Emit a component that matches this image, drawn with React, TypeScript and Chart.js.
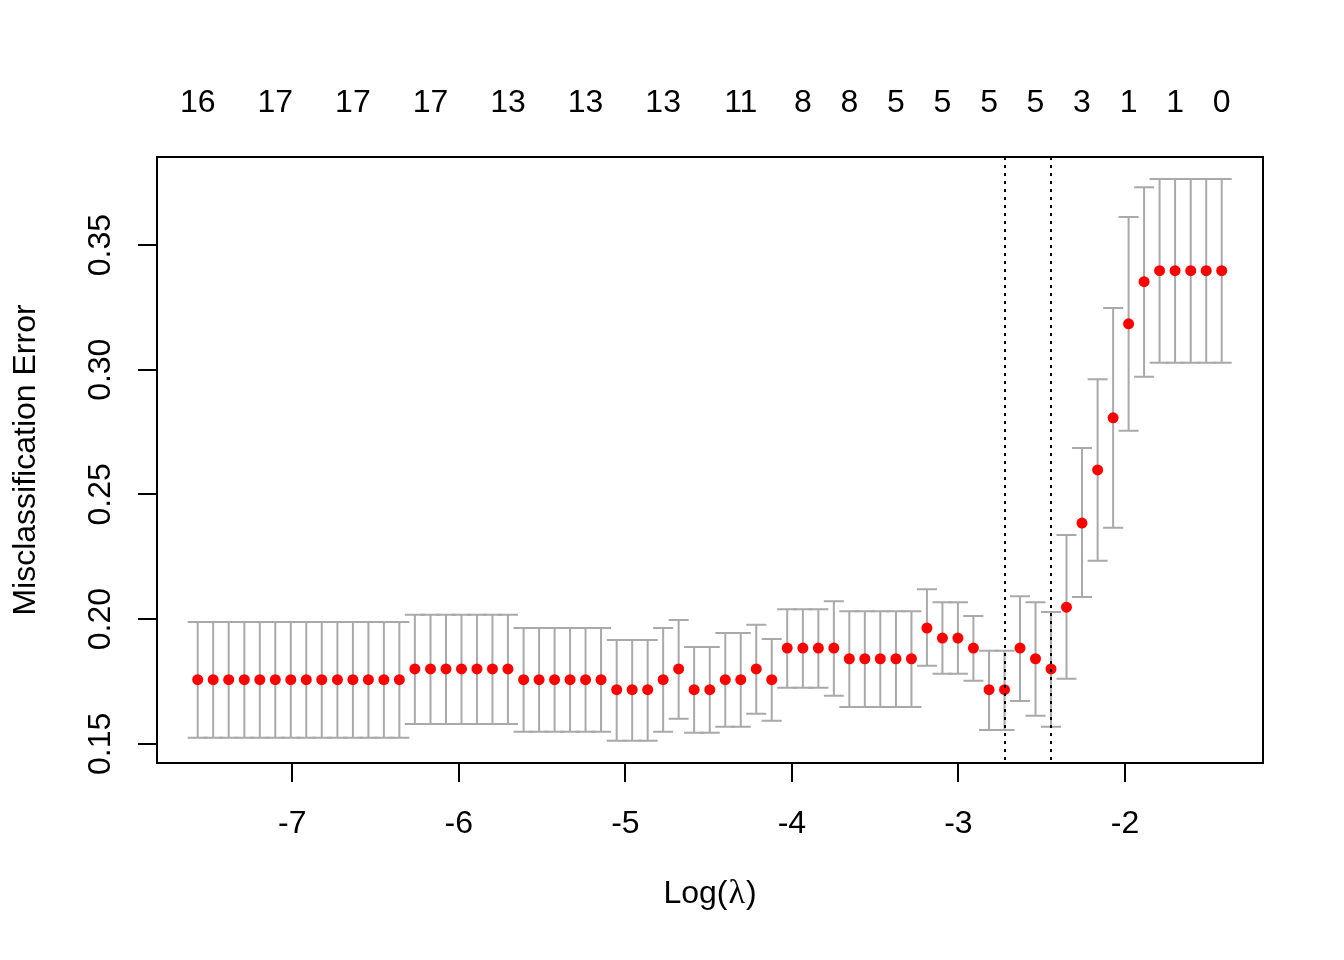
import React, { useEffect, useRef } from "react";
import { Chart, registerables } from "chart.js";

Chart.register(...registerables);

const logLambda: number[] = [
  -7.568, -7.475, -7.382, -7.288, -7.195, -7.102, -7.009, -6.916, -6.823, -6.729,
  -6.636, -6.543, -6.45, -6.357, -6.264, -6.17, -6.077, -5.984, -5.891, -5.798,
  -5.705, -5.611, -5.518, -5.425, -5.332, -5.239, -5.146, -5.052, -4.959, -4.866,
  -4.773, -4.68, -4.587, -4.493, -4.4, -4.307, -4.214, -4.121, -4.028, -3.934,
  -3.841, -3.748, -3.655, -3.562, -3.469, -3.375, -3.282, -3.189, -3.096, -3.003,
  -2.91, -2.816, -2.723, -2.63, -2.537, -2.444, -2.351, -2.258, -2.164, -2.071,
  -1.978, -1.885, -1.792, -1.699, -1.605, -1.512, -1.419,
];

const cvMean: number[] = [
  0.1757, 0.1757, 0.1757, 0.1757, 0.1757, 0.1757, 0.1757, 0.1757, 0.1757, 0.1757,
  0.1757, 0.1757, 0.1757, 0.1757, 0.18, 0.18, 0.18, 0.18, 0.18, 0.18,
  0.18, 0.1757, 0.1757, 0.1757, 0.1757, 0.1757, 0.1757, 0.1717, 0.1717, 0.1717,
  0.1757, 0.18, 0.1717, 0.1717, 0.1757, 0.1757, 0.18, 0.1757, 0.1884, 0.1884,
  0.1884, 0.1884, 0.1841, 0.1841, 0.1841, 0.1841, 0.1841, 0.1964, 0.1924, 0.1924,
  0.1884, 0.1717, 0.1717, 0.1884, 0.1841, 0.18, 0.2048, 0.2385, 0.2598, 0.2807,
  0.3184, 0.3353, 0.3397, 0.3397, 0.3397, 0.3397, 0.3397,
];

const cvUpper: number[] = [
  0.1988, 0.1988, 0.1988, 0.1988, 0.1988, 0.1988, 0.1988, 0.1988, 0.1988, 0.1988,
  0.1988, 0.1988, 0.1988, 0.1988, 0.2017, 0.2017, 0.2017, 0.2017, 0.2017, 0.2017,
  0.2017, 0.1964, 0.1964, 0.1964, 0.1964, 0.1964, 0.1964, 0.1916, 0.1916, 0.1916,
  0.1964, 0.1996, 0.1888, 0.1888, 0.1944, 0.1944, 0.1977, 0.192, 0.204, 0.204,
  0.204, 0.2072, 0.2032, 0.2032, 0.2032, 0.2032, 0.2032, 0.212, 0.2068, 0.2068,
  0.2012, 0.1873, 0.1873, 0.2092, 0.2068, 0.2028, 0.2337, 0.2686, 0.2962, 0.3248,
  0.3612, 0.3732, 0.3765, 0.3765, 0.3765, 0.3765, 0.3765,
];

const cvLower: number[] = [
  0.1524, 0.1524, 0.1524, 0.1524, 0.1524, 0.1524, 0.1524, 0.1524, 0.1524, 0.1524,
  0.1524, 0.1524, 0.1524, 0.1524, 0.1579, 0.1579, 0.1579, 0.1579, 0.1579, 0.1579,
  0.1579, 0.1548, 0.1548, 0.1548, 0.1548, 0.1548, 0.1548, 0.1512, 0.1512, 0.1512,
  0.1548, 0.16, 0.1544, 0.1544, 0.1568, 0.1568, 0.162, 0.1592, 0.1725, 0.1725,
  0.1725, 0.1693, 0.1648, 0.1648, 0.1648, 0.1648, 0.1648, 0.1813, 0.1781, 0.1781,
  0.1753, 0.1555, 0.1555, 0.1672, 0.1612, 0.1568, 0.1761, 0.2089, 0.2234, 0.2366,
  0.2755, 0.2972, 0.3028, 0.3028, 0.3028, 0.3028, 0.3028,
];

// indices of lambda points that carry a "number of nonzero coefficients" label on top
const topLabelIndex: number[] = [0, 5, 10, 15, 20, 25, 30, 35, 39, 42, 45, 48, 51, 54, 57, 60, 63, 66];
const topLabels: string[] = ["16", "17", "17", "17", "13", "13", "13", "11", "8", "8", "5", "5", "5", "5", "3", "1", "1", "0"];

const xTicks: number[] = [-7, -6, -5, -4, -3, -2];
const yTicks: number[] = [0.15, 0.2, 0.25, 0.3, 0.35];

const lambdaMinLog = -2.723;
const lambda1seLog = -2.444;

const X_MIN = -7.8124;
const X_MAX = -1.171;
const Y_MIN = 0.1423;
const Y_MAX = 0.3853;

const SANS = "'Liberation Sans', Arial, Helvetica, sans-serif";
const SERIF = "'Liberation Serif', 'Times New Roman', serif";
const FONT_SIZE = 32;

const overlayPlugin = {
  id: "cvOverlay",
  beforeDatasetsDraw(chart: any) {
    const ctx = chart.ctx;
    const xs = chart.scales.x;
    const ys = chart.scales.y;
    ctx.save();
    ctx.strokeStyle = "#A9A9A9";
    ctx.lineWidth = 2;
    const cap = 10;
    for (let i = 0; i < logLambda.length; i++) {
      const px = xs.getPixelForValue(logLambda[i]);
      const pu = ys.getPixelForValue(cvUpper[i]);
      const pl = ys.getPixelForValue(cvLower[i]);
      ctx.beginPath();
      ctx.moveTo(px, pu);
      ctx.lineTo(px, pl);
      ctx.moveTo(px - cap, pu);
      ctx.lineTo(px + cap, pu);
      ctx.moveTo(px - cap, pl);
      ctx.lineTo(px + cap, pl);
      ctx.stroke();
    }
    ctx.restore();
  },
  afterDatasetsDraw(chart: any) {
    const ctx = chart.ctx;
    const xs = chart.scales.x;
    const area = chart.chartArea;
    ctx.save();
    ctx.strokeStyle = "#000";
    ctx.lineWidth = 2;
    ctx.setLineDash([3, 5]);
    [lambdaMinLog, lambda1seLog].forEach((v) => {
      const px = Math.round(xs.getPixelForValue(v));
      ctx.beginPath();
      ctx.moveTo(px, area.top);
      ctx.lineTo(px, area.bottom);
      ctx.stroke();
    });
    ctx.restore();
  },
  afterDraw(chart: any) {
    const ctx = chart.ctx;
    const ys = chart.scales.y;
    const area = chart.chartArea;
    ctx.save();
    // plot box
    ctx.strokeStyle = "#000";
    ctx.lineWidth = 2;
    ctx.strokeRect(area.left, area.top, area.right - area.left, area.bottom - area.top);

    // y tick labels (rotated, as in base R)
    ctx.fillStyle = "#000";
    ctx.font = `${FONT_SIZE}px ${SANS}`;
    ctx.textAlign = "center";
    ctx.textBaseline = "middle";
    yTicks.forEach((v) => {
      const py = ys.getPixelForValue(v);
      ctx.save();
      ctx.translate(101, py);
      ctx.rotate(-Math.PI / 2);
      ctx.fillText(v.toFixed(2), 0, 0);
      ctx.restore();
    });

    // y axis title
    ctx.save();
    ctx.translate(26, (area.top + area.bottom) / 2);
    ctx.rotate(-Math.PI / 2);
    ctx.fillText("Misclassification Error", 0, 0);
    ctx.restore();

    // x axis title: Log(λ)
    const cx = (area.left + area.right) / 2;
    const baseY = 903;
    ctx.textBaseline = "alphabetic";
    ctx.textAlign = "left";
    const sansFont = `${FONT_SIZE}px ${SANS}`;
    const serifFont = `${FONT_SIZE + 2}px ${SERIF}`;
    ctx.font = sansFont;
    const w1 = ctx.measureText("Log(").width;
    const w3 = ctx.measureText(")").width;
    ctx.font = serifFont;
    const w2 = ctx.measureText("λ").width + 2;
    let x0 = cx - (w1 + w2 + w3) / 2;
    ctx.font = sansFont;
    ctx.fillText("Log(", x0, baseY);
    x0 += w1;
    ctx.font = serifFont;
    ctx.fillText("λ", x0 + 1, baseY);
    x0 += w2;
    ctx.font = sansFont;
    ctx.fillText(")", x0, baseY);
    ctx.restore();
  },
};

export default function App() {
  const canvasRef = useRef<HTMLCanvasElement | null>(null);

  useEffect(() => {
    if (!canvasRef.current) return;
    Chart.defaults.font.family = SANS;
    const points = logLambda.map((x, i) => ({ x, y: cvMean[i] }));
    const tickGrid = {
      display: true,
      drawOnChartArea: false,
      drawTicks: true,
      tickLength: 19,
      tickWidth: 2,
      tickColor: "#000",
      color: "#000",
      lineWidth: 2,
    };
    const chart = new Chart(canvasRef.current, {
      type: "scatter",
      data: {
        datasets: [
          {
            data: points,
            backgroundColor: "#FF0000",
            borderColor: "#FF0000",
            borderWidth: 0,
            pointRadius: 5.5,
            pointHoverRadius: 5.5,
            showLine: false,
          },
        ],
      },
      options: {
        animation: false,
        responsive: false,
        devicePixelRatio: 1,
        layout: { padding: { left: 0, top: 0, right: 81, bottom: 0 } },
        plugins: {
          legend: { display: false },
          tooltip: { enabled: false },
          title: { display: false },
        },
        events: [],
        scales: {
          x: {
            type: "linear",
            position: "bottom",
            min: X_MIN,
            max: X_MAX,
            bounds: "data",
            afterBuildTicks: (s: any) => {
              s.ticks = xTicks.map((v) => ({ value: v }));
            },
            afterFit: (s: any) => {
              s.height = 197;
            },
            grid: tickGrid,
            border: { display: false },
            ticks: {
              color: "#000",
              font: { size: FONT_SIZE, family: SANS },
              padding: 23,
              autoSkip: false,
              maxRotation: 0,
              minRotation: 0,
              callback: (v: any) => String(v),
            },
          },
          xTop: {
            type: "linear",
            position: "top",
            min: X_MIN,
            max: X_MAX,
            bounds: "data",
            afterBuildTicks: (s: any) => {
              s.ticks = topLabelIndex.map((i) => ({ value: logLambda[i] }));
            },
            afterFit: (s: any) => {
              s.height = 157;
            },
            grid: { display: false, drawTicks: false },
            border: { display: false },
            ticks: {
              color: "#000",
              font: { size: FONT_SIZE, family: SANS },
              padding: 35,
              autoSkip: false,
              maxRotation: 0,
              minRotation: 0,
              callback: (_v: any, i: number) => topLabels[i],
            },
          },
          y: {
            type: "linear",
            position: "left",
            min: Y_MIN,
            max: Y_MAX,
            bounds: "data",
            afterBuildTicks: (s: any) => {
              s.ticks = yTicks.map((v) => ({ value: v }));
            },
            afterFit: (s: any) => {
              s.width = 157;
            },
            grid: tickGrid,
            border: { display: false },
            ticks: { display: false },
          },
        },
      },
      plugins: [overlayPlugin],
    });
    return () => chart.destroy();
  }, []);

  return (
    <div style={{ position: "absolute", left: 0, top: 0, width: 1344, height: 960, background: "#fff" }}>
      <canvas ref={canvasRef} width={1344} height={960} style={{ width: 1344, height: 960, display: "block" }} />
    </div>
  );
}
